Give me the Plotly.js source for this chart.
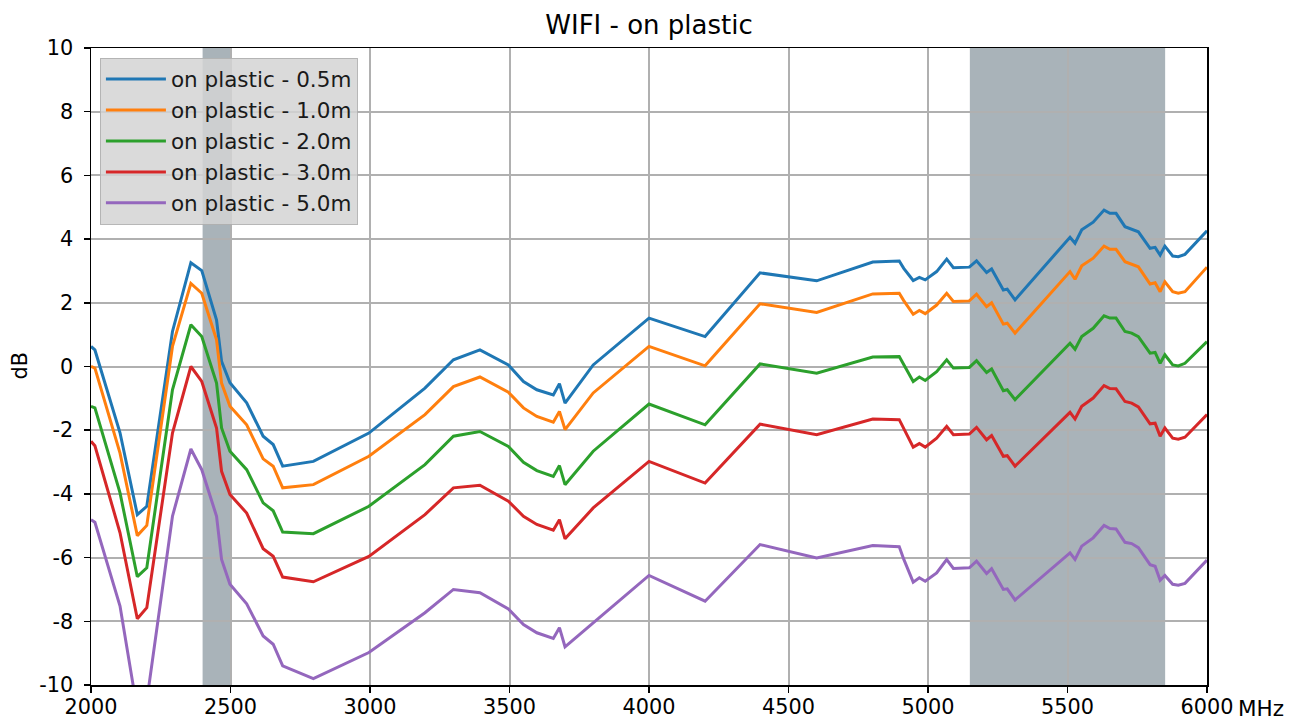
<!DOCTYPE html>
<html>
<head>
<meta charset="utf-8">
<script src="https://cdn.plot.ly/plotly-3.0.1.min.js"></script>
<style>html,body{margin:0;padding:0;background:#fff;}#chart{width:1305px;height:720px;}</style>
</head>
<body>
<div id="chart"></div>
<script>
const freqMHz = [2000, 2014, 2104, 2166, 2200, 2292, 2358, 2397, 2450, 2468, 2498, 2558, 2617, 2653, 2687, 2797, 2996, 3197, 3299, 3394, 3496, 3550, 3598, 3657, 3679, 3699, 3800, 4000, 4201, 4398, 4601, 4802, 4897, 4913, 4947, 4969, 4990, 5031, 5067, 5091, 5148, 5174, 5210, 5228, 5270, 5284, 5312, 5509, 5527, 5551, 5592, 5631, 5652, 5674, 5706, 5730, 5754, 5796, 5814, 5832, 5849, 5877, 5897, 5921, 6000];

const plastic05 = [0.63, 0.52, -2.08, -4.65, -4.39, 1.1, 3.26, 3.01, 1.46, 0.16, -0.51, -1.14, -2.19, -2.45, -3.13, -2.98, -2.09, -0.68, 0.21, 0.52, 0.05, -0.47, -0.73, -0.89, -0.54, -1.15, 0.05, 1.52, 0.94, 2.94, 2.69, 3.28, 3.31, 3.08, 2.7, 2.8, 2.72, 2.98, 3.37, 3.1, 3.12, 3.32, 2.95, 3.06, 2.4, 2.43, 2.09, 4.06, 3.87, 4.29, 4.53, 4.91, 4.81, 4.81, 4.39, 4.31, 4.23, 3.71, 3.74, 3.5, 3.78, 3.47, 3.45, 3.52, 4.26];

const plastic10 = [0.0, -0.05, -2.72, -5.31, -4.99, 0.63, 2.61, 2.3, 0.84, -0.52, -1.25, -1.83, -2.9, -3.13, -3.81, -3.71, -2.82, -1.51, -0.63, -0.33, -0.81, -1.3, -1.57, -1.75, -1.41, -1.98, -0.83, 0.63, 0.02, 1.97, 1.7, 2.28, 2.3, 2.07, 1.64, 1.76, 1.66, 1.93, 2.3, 2.04, 2.06, 2.27, 1.88, 2.0, 1.33, 1.36, 1.05, 2.98, 2.74, 3.16, 3.4, 3.78, 3.68, 3.68, 3.29, 3.22, 3.13, 2.59, 2.63, 2.35, 2.66, 2.35, 2.3, 2.35, 3.12];

const plastic20 = [-1.25, -1.3, -3.97, -6.6, -6.32, -0.73, 1.31, 0.94, -0.52, -1.93, -2.66, -3.24, -4.28, -4.53, -5.2, -5.25, -4.39, -3.08, -2.19, -2.04, -2.51, -3.01, -3.27, -3.45, -3.11, -3.71, -2.66, -1.18, -1.83, 0.08, -0.21, 0.3, 0.31, 0.05, -0.47, -0.33, -0.44, -0.16, 0.21, -0.05, -0.03, 0.18, -0.19, -0.08, -0.76, -0.73, -1.04, 0.73, 0.54, 0.94, 1.2, 1.59, 1.52, 1.52, 1.1, 1.05, 0.94, 0.42, 0.44, 0.1, 0.37, 0.05, 0.02, 0.1, 0.78];

const plastic30 = [-2.35, -2.49, -5.22, -7.92, -7.57, -2.09, 0.0, -0.47, -1.93, -3.29, -4.02, -4.6, -5.72, -5.96, -6.61, -6.76, -5.96, -4.65, -3.81, -3.73, -4.23, -4.7, -4.96, -5.14, -4.81, -5.41, -4.44, -2.98, -3.66, -1.81, -2.14, -1.65, -1.67, -1.95, -2.53, -2.42, -2.53, -2.25, -1.88, -2.14, -2.12, -1.91, -2.3, -2.17, -2.82, -2.8, -3.13, -1.44, -1.65, -1.25, -0.99, -0.6, -0.69, -0.7, -1.1, -1.15, -1.27, -1.8, -1.78, -2.19, -1.93, -2.25, -2.28, -2.22, -1.51];

const plastic50 = [-4.81, -4.89, -7.52, -10.8, -10.5, -4.7, -2.59, -3.24, -4.7, -6.06, -6.84, -7.45, -8.46, -8.72, -9.4, -9.8, -8.98, -7.73, -7.0, -7.1, -7.61, -8.1, -8.36, -8.54, -8.2, -8.8, -8.05, -6.56, -7.37, -5.59, -6.01, -5.62, -5.66, -6.05, -6.77, -6.63, -6.74, -6.48, -6.06, -6.34, -6.32, -6.11, -6.5, -6.35, -7.0, -6.98, -7.33, -5.85, -6.06, -5.64, -5.38, -4.99, -5.09, -5.1, -5.52, -5.56, -5.69, -6.22, -6.27, -6.71, -6.56, -6.84, -6.87, -6.81, -6.08];

const seriesNames = ["on plastic - 0.5m", "on plastic - 1.0m", "on plastic - 2.0m", "on plastic - 3.0m", "on plastic - 5.0m"];
const seriesValues = [plastic05, plastic10, plastic20, plastic30, plastic50];
const seriesColors = ["#1f77b4", "#ff7f0e", "#2ca02c", "#d62728", "#9467bd"];

const bandStarts = [2400, 5150];
const bandEnds = [2500, 5850];

const xTicks = [2000, 2500, 3000, 3500, 4000, 4500, 5000, 5500, 6000];
const yTicks = [-10, -8, -6, -4, -2, 0, 2, 4, 6, 8, 10];

const FONT = "DejaVu Sans, sans-serif";

const traces = seriesNames.map((name, i) => ({
  type: "scatter",
  mode: "lines",
  name: name,
  legendgroup: "g" + i,
  x: freqMHz,
  y: seriesValues[i],
  line: {color: seriesColors[i], width: 3}
}));

const shapes = bandStarts.map((s, i) => ({
  type: "rect", xref: "x", yref: "paper",
  x0: s, x1: bandEnds[i], y0: 0, y1: 1,
  fillcolor: "#a9b3b9", line: {width: 0}, layer: "below"
}));

const layout = {
  width: 1305, height: 720,
  margin: {l: 91, r: 98, t: 48, b: 35},
  paper_bgcolor: "#ffffff",
  plot_bgcolor: "#ffffff",
  font: {family: FONT, size: 20, color: "#000000"},
  title: {text: "WIFI - on plastic", font: {family: FONT, size: 26, color: "#000"},
          x: 0.5, xref: "paper", xanchor: "center", y: 0.965, yref: "container", yanchor: "middle"},
  xaxis: {
    range: [2000, 6000], tickvals: xTicks, ticktext: xTicks.map(String),
    showgrid: true, gridcolor: "#b0b0b0", gridwidth: 2,
    zeroline: false, showline: true, linecolor: "#000", linewidth: 1.5, mirror: true,
    ticks: "outside", ticklen: 6, tickwidth: 1.5, tickcolor: "#000",
    tickfont: {family: FONT, size: 20.8, color: "#000"},
    ticklabelstandoff: -3
  },
  yaxis: {
    range: [-10, 10], tickvals: yTicks, ticktext: yTicks.map(String),
    showgrid: true, gridcolor: "#b0b0b0", gridwidth: 2,
    zeroline: false, showline: true, linecolor: "#000", linewidth: 1.5, mirror: true,
    ticks: "outside", ticklen: 6, tickwidth: 1.5, tickcolor: "#000",
    tickfont: {family: FONT, size: 20.8, color: "#000"},
    ticklabelstandoff: 6
  },
  shapes: shapes,
  showlegend: true,
  legend: {
    x: 0.008, y: 0.985, xanchor: "left", yanchor: "top",
    bgcolor: "rgba(212,212,212,0.85)", bordercolor: "rgba(175,175,175,0.9)", borderwidth: 1,
    font: {family: FONT, size: 21.5, color: "#1a1a1a"},
    tracegroupgap: 6, traceorder: "normal", itemwidth: 60
  },
  annotations: [
    {text: "MHz", xref: "paper", yref: "paper", x: 1, y: 0, xanchor: "left", yanchor: "middle",
     xshift: 29, yshift: -23, showarrow: false, font: {family: FONT, size: 21.5, color: "#000"}},
    {text: "dB", xref: "paper", yref: "paper", x: 0, y: 0.5, xanchor: "center", yanchor: "middle",
     xshift: -72, yshift: 0, textangle: -90, showarrow: false, font: {family: FONT, size: 20.8, color: "#000"}}
  ]
};

Plotly.newPlot("chart", traces, layout, {displayModeBar: false, staticPlot: true});
</script>
</body>
</html>
